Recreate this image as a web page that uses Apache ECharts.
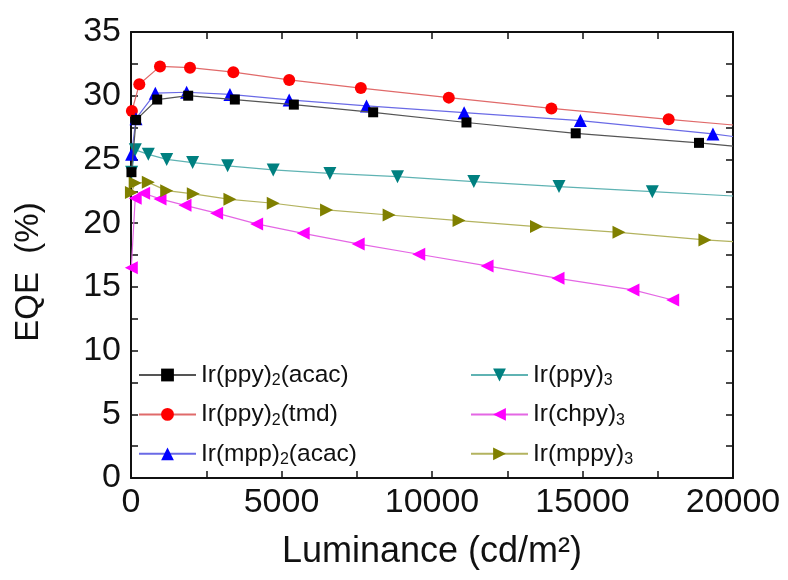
<!DOCTYPE html>
<html><head><meta charset="utf-8">
<script src="https://cdn.jsdelivr.net/npm/echarts@6/dist/echarts.min.js"></script>
<style>html,body{margin:0;padding:0;background:#fff}#c{width:788px;height:580px}</style>
</head><body><div id="c"></div>
<script>
const xTicks = [0, 5000, 10000, 15000, 20000];
const yTicks = [0, 5, 10, 15, 20, 25, 30, 35];
const seriesNames = ['Ir(ppy)2(acac)', 'Ir(ppy)2(tmd)', 'Ir(mpp)2(acac)', 'Ir(ppy)3', 'Ir(chpy)3', 'Ir(mppy)3'];
const ppy2acac = [[15,24.0],[170,28.1],[870,29.7],[1900,30.0],[3450,29.7],[5410,29.3],[8045,28.7],[11145,27.9],[14775,27.05],[18870,26.3],[20000,26.05]];
const ppy2tmd = [[30,28.8],[276,30.9],[963,32.3],[1960,32.2],[3400,31.85],[5256,31.24],[7636,30.6],[10558,29.85],[13967,29.0],[17862,28.15],[20000,27.7]];
const mpp2acac = [[20,25.4],[166,28.2],[807,30.2],[1848,30.27],[3287,30.1],[5256,29.67],[7824,29.2],[11067,28.67],[14930,28.05],[19333,27.0],[20000,26.8]];
const ppy3 = [[20,24.0],[143,25.75],[575,25.4],[1185,25.0],[2048,24.75],[3210,24.5],[4725,24.18],[6607,23.9],[8854,23.65],[11390,23.26],[14220,22.87],[17320,22.47],[20000,22.13]];
const chpy3 = [[10,16.5],[140,21.95],[420,22.35],[963,21.9],[1793,21.4],[2845,20.78],[4173,19.94],[5720,19.2],[7547,18.37],[9560,17.56],[11830,16.64],[14186,15.67],[16676,14.76],[17996,13.97]];
const mppy3 = [[15,22.4],[140,23.15],[575,23.2],[1185,22.55],[2070,22.3],[3287,21.87],[4725,21.56],[6497,21.04],[8576,20.64],[10900,20.2],[13471,19.73],[16213,19.28],[19068,18.68],[20000,18.55]];

const dataSets = [ppy2acac, ppy2tmd, mpp2acac, ppy3, chpy3, mppy3];
const markerColors = ['#000000','#ff0000','#0000ff','#008080','#ff00ff','#808000'];
const lineColors = ['#555555','#e06a6a','#6a6ae6','#5fb3b3','#e467e4','#b3b35f'];
const symbols = ['rect','circle','triangle','triangle','triangle','triangle'];
const rotations = [0,0,0,180,90,-90];
const sizes = [10,12,13,13,13,13];

const FF = 'Liberation Sans, Arial, sans-serif';
const legendRich = {
  a:{fontFamily:FF,fontSize:24.5,color:'#111',lineHeight:28},
  s:{fontFamily:FF,fontSize:16,color:'#111',lineHeight:28,verticalAlign:'bottom',padding:[15,0,0,0]}
};
function fmtLegend(name){
  const m = name.match(/^(Ir\([a-z]+\))(\d)(.*)$/);
  if(!m) return '{a|'+name+'}';
  return '{a|'+m[1]+'}{s|'+m[2]+'}' + (m[3] ? '{a|'+m[3]+'}' : '');
}
const axisFont = {fontFamily:FF,fontSize:34,color:'#111'};
const axLine = {onZero:false,lineStyle:{color:'#111',width:2}};
const axTick = {inside:true,length:7,lineStyle:{color:'#111',width:1.5}};
const axMinor = {show:true,splitNumber:2,length:7,lineStyle:{color:'#111',width:1.5}};
const xMax = xTicks[xTicks.length-1], yMax = yTicks[yTicks.length-1];
const chart = echarts.init(document.getElementById('c'));
chart.setOption({
  animation:false,
  backgroundColor:'#fff',
  grid:{left:131,right:55,top:32,bottom:102},
  legend:[
    {orient:'vertical',left:133,top:353,itemWidth:57,itemHeight:16,itemGap:8.4,
     data:seriesNames.slice(0,3),formatter:fmtLegend,textStyle:{rich:legendRich}},
    {orient:'vertical',left:465,top:353,itemWidth:57,itemHeight:16,itemGap:8.4,
     data:seriesNames.slice(3),formatter:fmtLegend,textStyle:{rich:legendRich}}
  ],
  xAxis:[
    {type:'value',min:0,max:xMax,interval:5000,position:'bottom',
     name:'Luminance (cd/m²)',nameLocation:'middle',nameGap:56,
     nameTextStyle:{fontFamily:FF,fontSize:36,color:'#111'},
     axisLine:axLine,axisTick:axTick,minorTick:axMinor,
     axisLabel:Object.assign({margin:8,formatter:v=>String(v)},axisFont),splitLine:{show:false}},
    {type:'value',min:0,max:xMax,interval:5000,position:'top',
     axisLine:axLine,axisTick:axTick,minorTick:axMinor,
     axisLabel:{show:false},splitLine:{show:false}}
  ],
  yAxis:[
    {type:'value',min:0,max:yMax,interval:5,position:'left',
     name:'EQE  (%)',nameLocation:'middle',nameGap:86,nameRotate:90,
     nameTextStyle:{fontFamily:FF,fontSize:33,color:'#111',padding:[0,34,0,0]},
     axisLine:axLine,axisTick:axTick,minorTick:axMinor,
     axisLabel:Object.assign({margin:10},axisFont),splitLine:{show:false}},
    {type:'value',min:0,max:yMax,interval:5,position:'right',
     axisLine:axLine,axisTick:axTick,minorTick:axMinor,
     axisLabel:{show:false},splitLine:{show:false}}
  ],
  series: seriesNames.map((n,i)=>({
    name:n,type:'line',
    data:dataSets[i].map(p => p[0] >= xMax ? {value:p, symbol:'none'} : {value:p}),
    xAxisIndex:0,yAxisIndex:0,
    symbol:symbols[i],symbolSize:sizes[i],symbolRotate:rotations[i],
    showAllSymbol:true,
    itemStyle:{color:markerColors[i]},
    lineStyle:{color:lineColors[i],width:1.2},
    z: i===0?3:2
  }))
});
</script></body></html>
